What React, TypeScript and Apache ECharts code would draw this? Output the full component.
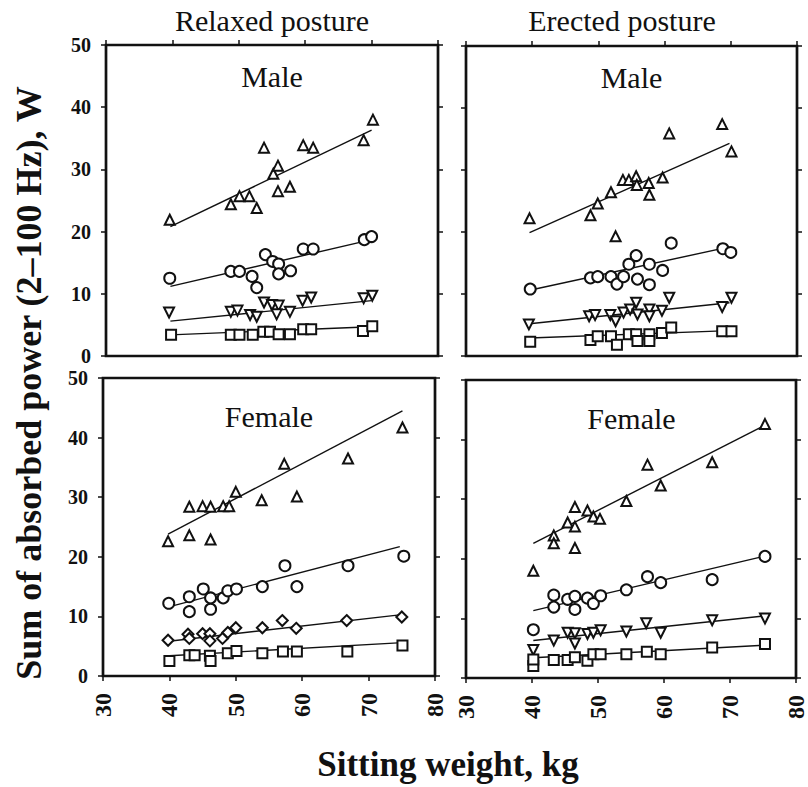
import React, { useEffect, useRef } from "react";
import * as echarts from "echarts";

// Sitting weight (kg) vs. absorbed power (W); [x, y] pairs per marker group.
const relaxedMaleTri = [[39.6, 21.9], [48.8, 24.4], [50.1, 25.7], [51.6, 25.7], [52.7, 23.8], [53.8, 33.5], [55.2, 29.3], [55.9, 30.6], [55.9, 26.5], [57.7, 27.2], [59.7, 33.9], [61.2, 33.5], [68.8, 34.7], [70.2, 38.0]];
const relaxedMaleCirc = [[39.6, 12.5], [48.8, 13.6], [50.1, 13.6], [52.0, 12.8], [52.7, 11.0], [54.0, 16.3], [55.1, 15.2], [56.0, 14.8], [56.0, 13.2], [57.8, 13.7], [59.7, 17.2], [61.2, 17.2], [68.9, 18.7], [70.0, 19.2]];
const relaxedMaleInv = [[39.5, 7.0], [48.8, 7.1], [49.8, 7.3], [51.7, 6.6], [52.7, 6.3], [53.8, 8.6], [55.0, 8.2], [56.0, 8.1], [55.7, 6.7], [57.7, 7.1], [59.6, 8.9], [60.9, 9.4], [68.8, 9.3], [70.1, 9.7]];
const relaxedMaleSq = [[39.8, 3.4], [48.8, 3.4], [50.1, 3.4], [52.1, 3.4], [53.7, 3.9], [54.7, 3.9], [56.0, 3.5], [57.7, 3.5], [59.7, 4.3], [60.9, 4.3], [68.7, 4.0], [70.1, 4.8]];

const erectedMaleTri = [[39.6, 22.2], [48.8, 22.7], [49.9, 24.6], [51.9, 26.4], [52.6, 19.3], [53.7, 28.4], [54.6, 28.4], [55.7, 29.0], [55.8, 27.6], [57.6, 27.9], [57.7, 26.0], [59.7, 28.8], [60.7, 35.9], [68.7, 37.4], [70.1, 33.0]];
const erectedMaleCirc = [[39.7, 10.8], [48.8, 12.6], [49.9, 12.8], [51.9, 12.8], [52.8, 11.6], [53.8, 12.8], [54.6, 14.8], [55.7, 16.2], [55.9, 12.4], [57.7, 14.8], [57.7, 11.5], [59.7, 13.8], [61.0, 18.2], [68.8, 17.3], [70.0, 16.7]];
const erectedMaleInv = [[39.5, 5.1], [48.6, 6.4], [49.5, 6.6], [51.8, 6.6], [52.6, 5.6], [53.8, 7.0], [54.8, 7.5], [55.7, 8.6], [55.9, 6.7], [57.7, 7.5], [57.7, 6.4], [59.6, 7.3], [60.7, 9.4], [68.7, 7.9], [70.1, 9.4]];
const erectedMaleSq = [[39.7, 2.3], [48.8, 2.6], [49.9, 3.2], [51.9, 3.2], [52.8, 1.8], [54.6, 3.5], [55.7, 3.5], [55.9, 2.4], [57.7, 3.5], [57.7, 2.4], [59.6, 3.7], [61.0, 4.6], [68.7, 4.0], [70.1, 4.0]];

const relaxedFemaleTri = [[39.8, 22.6], [43.0, 28.4], [43.0, 23.6], [45.0, 28.5], [46.2, 28.4], [46.2, 22.9], [48.1, 28.5], [49.0, 28.5], [50.0, 30.9], [53.9, 29.5], [57.3, 35.6], [59.2, 30.1], [66.9, 36.5], [75.1, 41.7]];
const relaxedFemaleCirc = [[39.9, 12.2], [43.0, 13.3], [43.0, 10.8], [45.1, 14.6], [46.2, 13.1], [46.2, 11.2], [48.1, 13.1], [48.8, 14.3], [50.1, 14.6], [54.0, 15.0], [57.4, 18.5], [59.2, 15.0], [66.9, 18.5], [75.3, 20.1]];
const relaxedFemaleDia = [[39.8, 6.0], [42.8, 7.0], [43.0, 6.3], [45.0, 7.1], [46.1, 7.1], [46.1, 5.9], [48.0, 6.3], [48.8, 7.3], [50.0, 8.1], [54.0, 8.1], [57.0, 9.3], [59.1, 8.0], [66.7, 9.3], [75.0, 9.9]];
const relaxedFemaleSq = [[40.0, 2.5], [43.0, 3.5], [43.8, 3.5], [46.1, 3.4], [46.2, 2.5], [48.8, 3.8], [50.1, 4.2], [54.0, 3.8], [57.1, 4.1], [59.2, 4.1], [66.8, 4.1], [75.1, 5.1]];

const erectedFemaleTri = [[40.2, 18.0], [43.3, 23.9], [43.3, 22.6], [45.4, 26.1], [46.5, 28.7], [46.5, 25.4], [46.5, 21.8], [48.4, 28.1], [49.3, 27.1], [50.3, 26.7], [54.3, 29.7], [57.5, 35.8], [59.5, 32.3], [67.3, 36.2], [75.3, 42.6]];
const erectedFemaleCirc = [[40.2, 8.1], [43.3, 13.9], [43.3, 11.9], [45.4, 13.2], [46.5, 13.7], [46.5, 11.5], [48.4, 13.4], [49.3, 12.5], [50.4, 13.8], [54.3, 14.8], [57.5, 17.0], [59.5, 16.0], [67.3, 16.5], [75.3, 20.4]];
const erectedFemaleInv = [[40.2, 4.7], [43.3, 6.3], [45.4, 7.6], [46.5, 7.5], [46.5, 5.8], [48.4, 7.4], [49.3, 7.6], [50.4, 8.0], [54.3, 7.8], [57.3, 9.2], [59.5, 7.6], [67.3, 9.7], [75.3, 10.0]];
const erectedFemaleSq = [[40.2, 2.0], [40.2, 3.1], [43.3, 3.0], [45.4, 3.0], [46.5, 3.5], [48.4, 2.9], [49.3, 4.0], [50.4, 4.0], [54.3, 4.0], [57.4, 4.4], [59.5, 4.0], [67.3, 5.1], [75.3, 5.7]];

// Regression lines as [x0, y0, x1, y1].
const relaxedMaleFits = [[39.7, 20.8, 70.0, 36.3], [39.7, 11.2, 70.0, 18.7], [39.7, 5.6, 70.0, 8.9], [39.7, 3.4, 70.0, 4.7]];
const erectedMaleFits = [[39.6, 19.9, 69.8, 34.3], [39.6, 10.6, 69.8, 17.6], [39.6, 5.2, 69.8, 8.6], [39.6, 2.9, 69.8, 4.1]];
const relaxedFemaleFits = [[39.8, 23.8, 75.1, 44.5], [39.9, 11.6, 74.7, 21.7], [39.6, 5.8, 75.0, 10.3], [40.0, 3.4, 75.1, 5.6]];
const erectedFemaleFits = [[40.2, 22.6, 75.1, 42.3], [40.2, 11.3, 75.1, 20.4], [40.2, 6.3, 75.1, 10.4], [40.2, 3.4, 75.1, 5.5]];

const xTicks = { min: 30, max: 80, interval: 10 };
const yTicks = { min: 0, max: 50, interval: 10 };

const FONT = "'Liberation Serif', 'DejaVu Serif', 'Times New Roman', serif";
const INK = "#111";

type Pt = number[];
interface Panel {
  grid: { left: number; top: number; width: number; height: number };
  groups: { data: Pt[]; symbol: string; rotate: number }[];
  fits: number[][];
  xOnTop: boolean;
  yLabels: boolean;
  label: string;
}

const panels: Panel[] = [
  {
    grid: { left: 106, top: 45, width: 332, height: 311 },
    groups: [
      { data: relaxedMaleTri, symbol: "triangle", rotate: 0 },
      { data: relaxedMaleCirc, symbol: "circle", rotate: 0 },
      { data: relaxedMaleInv, symbol: "triangle", rotate: 180 },
      { data: relaxedMaleSq, symbol: "rect", rotate: 0 },
    ],
    fits: relaxedMaleFits,
    xOnTop: true,
    yLabels: true,
    label: "Male",
  },
  {
    grid: { left: 466, top: 46, width: 331, height: 310 },
    groups: [
      { data: erectedMaleTri, symbol: "triangle", rotate: 0 },
      { data: erectedMaleCirc, symbol: "circle", rotate: 0 },
      { data: erectedMaleInv, symbol: "triangle", rotate: 180 },
      { data: erectedMaleSq, symbol: "rect", rotate: 0 },
    ],
    fits: erectedMaleFits,
    xOnTop: true,
    yLabels: false,
    label: "Male",
  },
  {
    grid: { left: 103, top: 378, width: 332, height: 298 },
    groups: [
      { data: relaxedFemaleTri, symbol: "triangle", rotate: 0 },
      { data: relaxedFemaleCirc, symbol: "circle", rotate: 0 },
      { data: relaxedFemaleDia, symbol: "diamond", rotate: 0 },
      { data: relaxedFemaleSq, symbol: "rect", rotate: 0 },
    ],
    fits: relaxedFemaleFits,
    xOnTop: false,
    yLabels: true,
    label: "Female",
  },
  {
    grid: { left: 466, top: 380, width: 331, height: 298 },
    groups: [
      { data: erectedFemaleTri, symbol: "triangle", rotate: 0 },
      { data: erectedFemaleCirc, symbol: "circle", rotate: 0 },
      { data: erectedFemaleInv, symbol: "triangle", rotate: 180 },
      { data: erectedFemaleSq, symbol: "rect", rotate: 0 },
    ],
    fits: erectedFemaleFits,
    xOnTop: false,
    yLabels: false,
    label: "Female",
  },
];

function buildOption() {
  const grid: any[] = [];
  const xAxis: any[] = [];
  const yAxis: any[] = [];
  const series: any[] = [];
  const graphic: any[] = [];
  const tick = { show: true, inside: false, length: 5, lineStyle: { color: INK, width: 1.5 } };

  panels.forEach((p, i) => {
    grid.push({
      ...p.grid,
      show: true,
      borderColor: INK,
      borderWidth: 2.7,
      backgroundColor: "transparent",
      containLabel: false,
    });
    xAxis.push({
      type: "value",
      gridIndex: i,
      ...xTicks,
      position: p.xOnTop ? "top" : "bottom",
      axisLine: { show: false, onZero: false },
      axisTick: tick,
      splitLine: { show: false },
      axisLabel: {
        show: !p.xOnTop,
        rotate: 90,
        margin: 17,
        fontSize: 24,
        fontWeight: "bold",
        fontFamily: FONT,
        color: INK,
        showMinLabel: true,
        showMaxLabel: true,
      },
    });
    yAxis.push({
      type: "value",
      gridIndex: i,
      ...yTicks,
      position: "left",
      axisLine: { show: false, onZero: false },
      axisTick: tick,
      splitLine: { show: false },
      axisLabel: {
        show: p.yLabels,
        margin: 15,
        fontSize: 20,
        fontWeight: "bold",
        fontFamily: FONT,
        color: INK,
        showMinLabel: true,
        showMaxLabel: true,
      },
    });
    yAxis.push({
      type: "value",
      gridIndex: i,
      ...yTicks,
      position: "right",
      axisLine: { show: false, onZero: false },
      axisTick: tick,
      splitLine: { show: false },
      axisLabel: { show: false },
    });

    p.fits.forEach((f) => {
      series.push({
        type: "line",
        xAxisIndex: i,
        yAxisIndex: i * 2,
        data: [[f[0], f[1]], [f[2], f[3]]],
        symbol: "none",
        lineStyle: { color: INK, width: 1.4 },
        z: 2,
        silent: true,
      });
    });
    p.groups.forEach((g) => {
      series.push({
        type: "scatter",
        xAxisIndex: i,
        yAxisIndex: i * 2,
        data: g.data,
        symbol: g.symbol,
        symbolRotate: g.rotate,
        symbolSize: g.symbol === "circle" ? 11 : g.symbol === "diamond" ? 11 : 10,
        itemStyle: { color: "#fff", borderColor: INK, borderWidth: 2, opacity: 1 },
        z: 3,
      });
    });

    // Sex label inside each panel
    graphic.push({
      type: "text",
      x: p.grid.left + p.grid.width / 2,
      y: p.grid.top + (p.xOnTop ? 31 : 38),
      style: {
        text: p.label,
        fontSize: 30,
        fontWeight: "normal",
        fontFamily: FONT,
        fill: INK,
        align: "center",
        verticalAlign: "middle",
      },
      z: 10,
    });
  });

  const headers = [
    { text: "Relaxed posture", x: 272 },
    { text: "Erected posture", x: 622 },
  ];
  headers.forEach((h) =>
    graphic.push({
      type: "text",
      x: h.x,
      y: 20,
      style: {
        text: h.text,
        fontSize: 30,
        fontWeight: "normal",
        fontFamily: FONT,
        fill: INK,
        align: "center",
        verticalAlign: "middle",
      },
    })
  );

  graphic.push({
    type: "text",
    x: 29,
    y: 383,
    rotation: Math.PI / 2,
    style: {
      text: "Sum of absorbed power (2–100 Hz), W",
      fontSize: 36,
      fontWeight: "bold",
      fontFamily: FONT,
      fill: INK,
      align: "center",
      verticalAlign: "middle",
    },
  });
  graphic.push({
    type: "text",
    x: 448,
    y: 764,
    style: {
      text: "Sitting weight, kg",
      fontSize: 35,
      fontWeight: "bold",
      fontFamily: FONT,
      fill: INK,
      align: "center",
      verticalAlign: "middle",
    },
  });

  return {
    animation: false,
    backgroundColor: "#fff",
    grid,
    xAxis,
    yAxis,
    series,
    graphic,
  };
}

export default function App() {
  const ref = useRef<HTMLDivElement>(null);
  useEffect(() => {
    if (!ref.current) return;
    const chart = echarts.init(ref.current, undefined, { renderer: "svg" });
    chart.setOption(buildOption());
    return () => chart.dispose();
  }, []);
  return (
    <div
      ref={ref}
      style={{ position: "absolute", left: 0, top: 0, width: 808, height: 787, background: "#fff" }}
    />
  );
}
